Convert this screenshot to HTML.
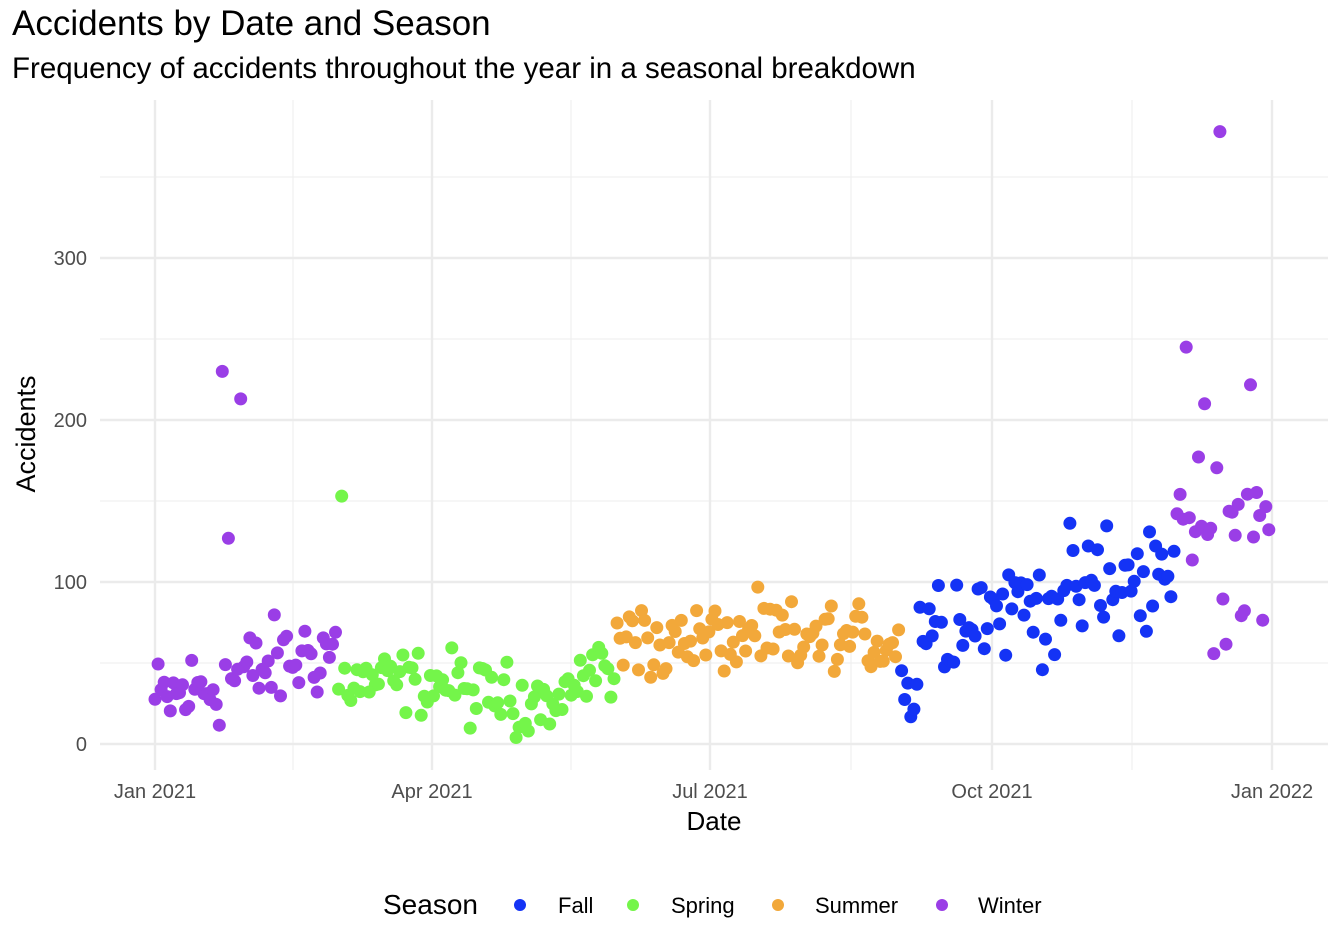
<!DOCTYPE html>
<html><head><meta charset="utf-8"><style>
html,body{margin:0;padding:0;background:#fff;}
svg{display:block;font-family:"Liberation Sans",Arial,sans-serif;}
</style></head><body>
<svg id="s" width="1344" height="944" viewBox="0 0 1344 944" xmlns="http://www.w3.org/2000/svg">
<g stroke="#f0f0f0" stroke-width="1.2">
<line x1="100" x2="1328" y1="663" y2="663"/><line x1="100" x2="1328" y1="501" y2="501"/>
<line x1="100" x2="1328" y1="339" y2="339"/><line x1="100" x2="1328" y1="177" y2="177"/>
<line y1="100" y2="770" x1="293" x2="293"/><line y1="100" y2="770" x1="571" x2="571"/>
<line y1="100" y2="770" x1="851" x2="851"/><line y1="100" y2="770" x1="1132" x2="1132"/>
</g>
<g stroke="#ebebeb" stroke-width="2.4">
<line x1="100" x2="1328" y1="744" y2="744"/><line x1="100" x2="1328" y1="582" y2="582"/>
<line x1="100" x2="1328" y1="420" y2="420"/><line x1="100" x2="1328" y1="258" y2="258"/>
<line y1="100" y2="770" x1="155" x2="155"/><line y1="100" y2="770" x1="432" x2="432"/>
<line y1="100" y2="770" x1="710" x2="710"/><line y1="100" y2="770" x1="992" x2="992"/>
<line y1="100" y2="770" x1="1272" x2="1272"/>
</g>
<g id="pts"></g>
<g fill="#4d4d4d" font-size="20" text-anchor="end">
<text x="87" y="751">0</text><text x="87" y="589">100</text><text x="87" y="427">200</text><text x="87" y="265">300</text>
</g>
<g fill="#4d4d4d" font-size="20" text-anchor="middle">
<text x="155" y="798">Jan 2021</text><text x="432" y="798">Apr 2021</text><text x="710" y="798">Jul 2021</text>
<text x="992" y="798">Oct 2021</text><text x="1272" y="798">Jan 2022</text>
</g>
<text x="714" y="830" font-size="26" text-anchor="middle" fill="#000">Date</text>
<text transform="translate(35,434) rotate(-90)" font-size="27" text-anchor="middle" fill="#000">Accidents</text>
<text x="12" y="35" font-size="35" fill="#000">Accidents by Date and Season</text>
<text x="12" y="78" font-size="29.5" fill="#000">Frequency of accidents throughout the year in a seasonal breakdown</text>
<text x="383" y="914" font-size="28" fill="#000">Season</text>
<circle cx="520" cy="905" r="6" fill="#1433f5"/><text x="558" y="913" font-size="22">Fall</text>
<circle cx="633" cy="905" r="6" fill="#74f54a"/><text x="671" y="913" font-size="22">Spring</text>
<circle cx="778" cy="905" r="6" fill="#f2a83a"/><text x="815" y="913" font-size="22">Summer</text>
<circle cx="942" cy="905" r="6" fill="#9a3ee6"/><text x="978" y="913" font-size="22">Winter</text>
</svg>
<script>
(function(){
var seed=12345;function r(){seed=(seed*1103515245+12345)%2147483648;return seed/2147483648;}
function g(){return (r()+r()+r()-1.5)*1.4;}
var C={f:"#1433f5",sp:"#74f54a",su:"#f2a83a",w:"#9a3ee6"};
var h="";
for(var d=0;d<365;d++){
 var x=155+d*3.06,c,m,s;
 if(d<60){c=C.w;m=25+d*0.6;s=20;}
 else if(d<151){c=C.sp;m=38-(d>100&&d<135?8:0)+(d>140?(d-140)*1.2:0);s=14;}
 else if(d<244){c=C.su;m=64;s=17;}
 else if(d<334){c=C.f;m=(d<250?40:75)+(d-250)*0.35;s=26;}
 else {c=C.w;m=130;s=50;}
 var v=m+g()*s; if(v<8)v=8+r()*10;
 if(d==22)v=230;if(d==28)v=213;if(d==24)v=127;if(d==61)v=153;if(d==348)v=378;if(d==337)v=245;if(d==343)v=210;if(d==118)v=4;
 h+='<circle cx="'+x.toFixed(1)+'" cy="'+(744-v*1.62).toFixed(1)+'" r="6.5" fill="'+c+'"/>';
}
document.getElementById("pts").innerHTML=h;
})();
</script>
</body></html>
